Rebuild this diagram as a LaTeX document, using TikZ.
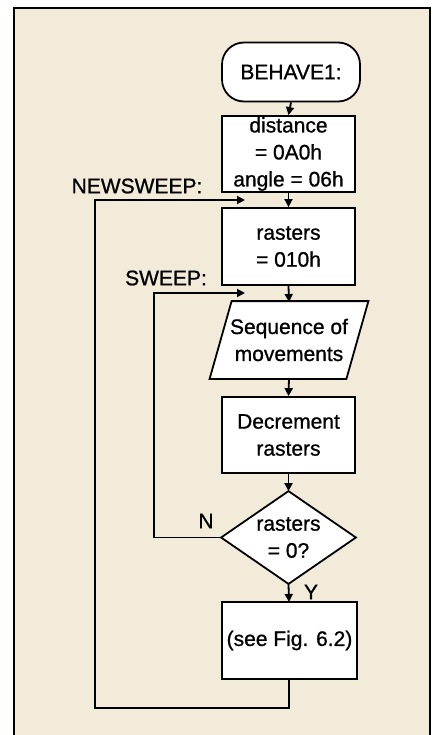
\documentclass[tikz,border=0pt]{standalone}
\usepackage{fontspec}
\setmainfont{Liberation Sans}[FakeBold=0.9]
\usetikzlibrary{arrows.meta}
\definecolor{paper}{HTML}{F3EBDA}
\begin{document}
\begin{tikzpicture}[x=1pt,y=-1pt,
  font=\fontsize{21}{27}\selectfont,
  line width=1.8pt,
  box/.style={draw, fill=white, minimum width=133pt, minimum height=76pt, inner sep=1pt, align=center},
  plain/.style={minimum width=135pt, minimum height=76pt, inner sep=1pt, align=center},
  flow/.style={-{Triangle[length=8pt,width=8pt]}},
  lbl/.style={inner sep=0pt}]
\useasboundingbox (0,0) rectangle (435,735);
\fill[white] (0,0) rectangle (435,735);
\fill[paper] (14,8) rectangle (430,740);
\draw (14,740) -- (14,8) -- (430,8) -- (430,740);
% nodes
\node[box, rounded corners=22pt, minimum width=138pt, minimum height=59pt] (behave) at (291,72) {BEHAVE1:};
\node[box] (dist) at (288.5,154) {distance\\= 0A0h\\angle = 06h};
\node[box, minimum height=77pt] (rast) at (288.5,246.5) {rasters\\= 010h};
\node[plain] (seq) at (289,340) {};
\fill[white] ([xshift=11pt]seq.north west) -- ([xshift=11pt]seq.north east) -- ([xshift=-11pt]seq.south east) -- ([xshift=-11pt]seq.south west) -- cycle;
\draw ([xshift=11pt]seq.north west) -- ([xshift=11pt]seq.north east) -- ([xshift=-11pt]seq.south east) -- ([xshift=-11pt]seq.south west) -- cycle;
\node[align=center, inner sep=0pt] at (seq.center) {Sequence of\\movements};
\node[box] (dec) at (288.5,435) {Decrement\\rasters};
\node[plain, minimum width=133pt, minimum height=91pt] (dia) at (288.5,537.5) {};
\draw[fill=white] (dia.north) -- (dia.east) -- (dia.south) -- (dia.west) -- cycle;
\node[align=center, inner sep=0pt] at (dia.center) {rasters\\= 0?};
\node[box, minimum width=135pt, minimum height=77pt] (see) at (289.5,640.5) {(see Fig. 6.2)};
% labels
\node[lbl] (lnsw) at (137,186) {NEWSWEEP:};
\node[lbl] (lsw) at (166,278) {SWEEP:};
\node[lbl] (ln) at (206,521) {N};
\node[lbl] (ly) at (311,592) {Y};
% connectors
\coordinate (nsw) at (245,200);
\coordinate (sw) at (245,293);
\draw[flow] (behave.south) -- (dist.north);
\draw[flow] (dist.south) -- (rast.north);
\draw[flow] (rast.south) -- (289,302);
\draw[flow] (289,378) -- (dec.north);
\draw[flow] (dec.south) -- (dia.north);
\draw[flow] (dia.south) -- (289,602);
\draw[flow] (see.south -| 289,0) -- (289,708) -- (95,708) -- (95,200) -- (nsw);
\draw[flow] (dia.west) -- (154,537.5) -- (154,293) -- (sw);
\end{tikzpicture}
\end{document}
